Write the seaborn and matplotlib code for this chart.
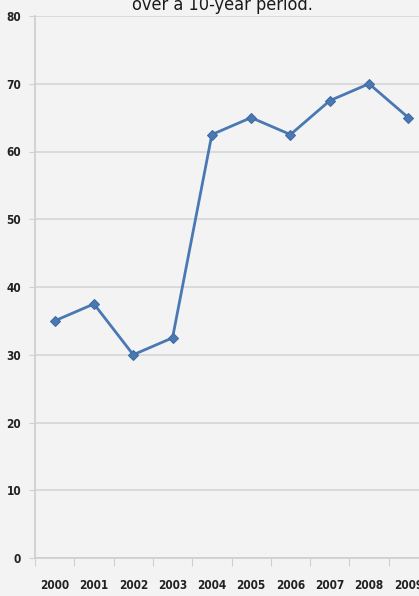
import matplotlib
matplotlib.use("Agg")
import matplotlib.pyplot as plt
import seaborn as sns
import pandas as pd
import numpy as np

years = ["2000", "2001", "2002", "2003", "2004", "2005", "2006", "2007", "2008", "2009"]
values = [35, 37.5, 30, 32.5, 62.5, 65, 62.5, 67.5, 70, 65]
yticks = [0, 10, 20, 30, 40, 50, 60, 70, 80]
title = "over a 10-year period."

sns.set_theme(style="white")
plt.rcParams["font.family"] = ["DejaVu Sans", "Liberation Sans"]
plt.rcParams["font.stretch"] = "condensed"

bg = "#f3f3f3"
fig = plt.figure(figsize=(4.19, 5.96), dpi=100, facecolor=bg)
W, H = 419, 596
left, right, top, bottom = 35, 428, 16, 558
ax = fig.add_axes([left / W, 1 - bottom / H, (right - left) / W, (bottom - top) / H])
ax.set_facecolor(bg)

df = pd.DataFrame({"year": years, "value": values})
df["pos"] = np.arange(len(years))
sns.lineplot(data=df, x="pos", y="value", ax=ax, color="#4a78b3", linewidth=2.0,
             marker="D", markersize=5, markeredgecolor="#3f6aa3")

ax.set_xlim(-0.5, len(years) - 0.5)
ax.set_ylim(0, 80)
ax.set_yticks(yticks)
ax.set_yticklabels([str(t) for t in yticks], fontsize=8.5, fontweight="bold", color="#222222",
                   fontstretch="condensed")
ax.set_xticks(np.arange(len(years)))
ax.set_xticklabels(years, fontsize=8.5, fontweight="bold", color="#222222", fontstretch="condensed")
ax.set_xticks(np.arange(len(years) + 1) - 0.5, minor=True)
ax.tick_params(axis="x", which="major", length=0, pad=15)
ax.tick_params(axis="x", which="minor", length=6, width=0.8, color="#cfcfcf", direction="out", bottom=True)
ax.tick_params(axis="y", length=4, width=0.8, color="#cfcfcf", direction="out", left=True, pad=6)
ax.grid(axis="y", color="#d6d6d6", linewidth=1.2)
ax.grid(axis="x", visible=False)
for s in ["top", "right"]:
    ax.spines[s].set_visible(False)
ax.spines["left"].set_color("#cfcfcf")
ax.spines["bottom"].set_color("#cfcfcf")
ax.set_xlabel("")
ax.set_ylabel("")

fig.text(222 / W, 1 - 5 / H, title, ha="center", va="center", fontsize=13, color="#1a1a1a",
         fontstretch="condensed")

fig.savefig("out.png", dpi=100, facecolor=bg)
